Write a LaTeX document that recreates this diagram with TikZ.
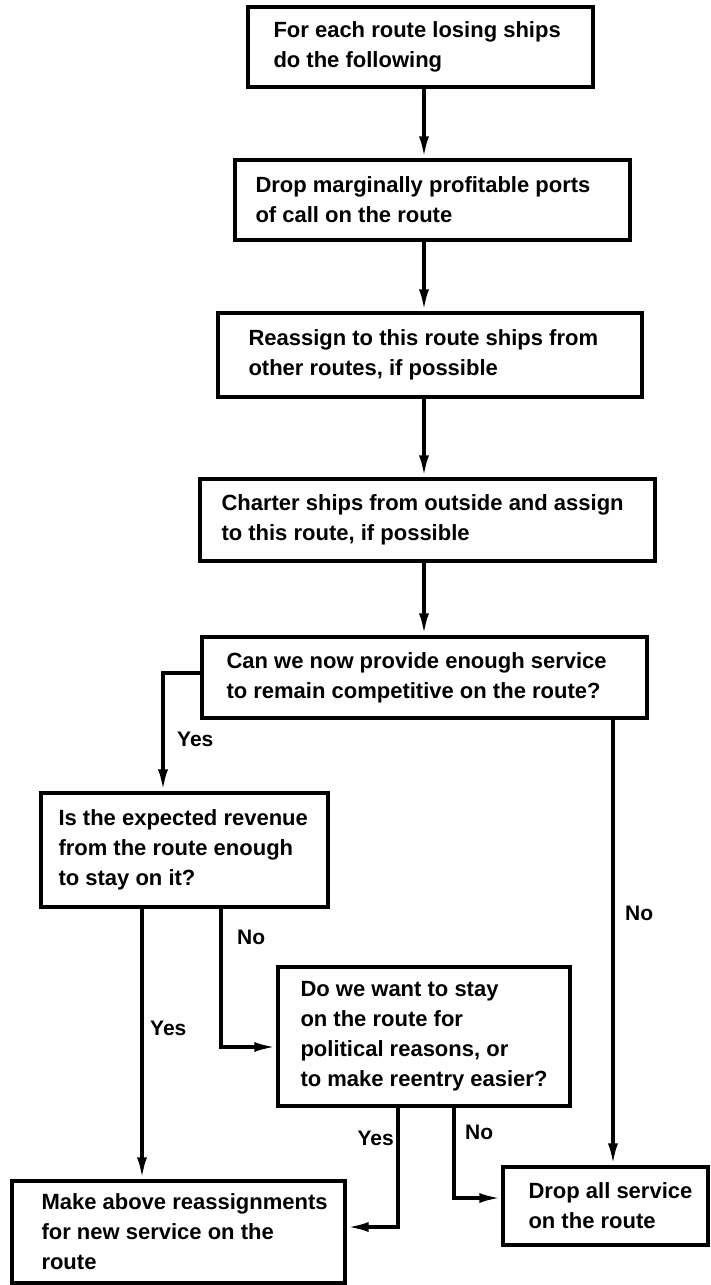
\documentclass[tikz,border=0pt]{standalone}
\usepackage{fontspec}
\setmainfont{Liberation Sans}
\usetikzlibrary{arrows.meta,positioning}
\begin{document}
\begin{tikzpicture}[x=1pt,y=-1pt,
  box/.style={draw, line width=3.4pt, inner sep=0pt},
  txt/.style={font=\bfseries\fontsize{22}{30}\selectfont, align=left, inner sep=0pt, anchor=west},
  lbl/.style={font=\bfseries\fontsize{21}{24}\selectfont, inner sep=0pt},
  conn/.style={line width=3.6pt},
  arr/.style={conn, -{Latex[length=22pt,width=10pt]}}]
\useasboundingbox (0,0) rectangle (710,1285);

% boxes
\node[box, minimum width=345pt, minimum height=80pt]  (b1) at (420.5,47) {};
\node[box, minimum width=395pt, minimum height=80pt]  (b2) at (432.5,200) {};
\node[box, minimum width=424pt, minimum height=84pt]  (b3) at (430,355) {};
\node[box, minimum width=455pt, minimum height=82pt]  (b4) at (427.5,520) {};
\node[box, minimum width=445pt, minimum height=81pt]  (b5) at (424.5,677.5) {};
\node[box, minimum width=287pt, minimum height=114pt] (b6) at (184.5,850) {};
\node[box, minimum width=333pt, minimum height=102pt] (b7) at (178.5,1232) {};
\node[box, minimum width=292pt, minimum height=139pt] (b8) at (424,1036.5) {};
\node[box, minimum width=205pt, minimum height=78pt]  (b9) at (605.5,1206) {};

% texts
\node[txt] (t1) at ([xshift=27pt]b1.west) {For each route losing ships\\do the following};
\node[txt] (t2) at ([xshift=22pt]b2.west) {Drop marginally profitable ports\\of call on the route};
\node[txt] (t3) at ([xshift=32pt]b3.west) {Reassign to this route ships from\\other routes, if possible};
\node[txt] (t4) at ([xshift=23pt]b4.west) {Charter ships from outside and assign\\to this route, if possible};
\node[txt] (t5) at ([xshift=26pt]b5.west) {Can we now provide enough service\\to remain competitive on the route?};
\node[txt] (t6) at ([xshift=19pt]b6.west) {Is the expected revenue\\from the route enough\\to stay on it?};
\node[txt] (t7) at ([xshift=31pt]b7.west) {Make above reassignments\\for new service on the\\route};
\node[txt] (t8) at ([xshift=24pt]b8.west) {Do we want to stay\\on the route for\\political reasons, or\\to make reentry easier?};
\node[txt] (t9) at ([xshift=27pt]b9.west) {Drop all service\\on the route};

% main spine
\coordinate (sp) at (424,0);
\draw[arr] (b1.south -| sp) -- (b2.north -| sp);
\draw[arr] (b2.south -| sp) -- (b3.north -| sp);
\draw[arr] (b3.south -| sp) -- (b4.north -| sp);
\draw[arr] (b4.south -| sp) -- (b5.north -| sp);

% b5 -> b6 (Yes)
\coordinate (y1) at (163,673);
\draw[arr] (b5.west |- y1) -- (y1) -- (b6.north -| y1);
\node[lbl, anchor=west] (l1) at (177,739) {Yes};

% b5 -> b9 (No)
\coordinate (n1) at (613,0);
\draw[arr] (b5.south -| n1) -- (b9.north -| n1);
\node[lbl, anchor=west] (l2) at (625,913) {No};

% b6 -> b7 (Yes)
\coordinate (y2) at (142,0);
\draw[arr] (b6.south -| y2) -- (b7.north -| y2);
\node[lbl, anchor=west] (l3) at (150,1028) {Yes};

% b6 -> b8 (No)
\coordinate (n2) at (221,1047);
\draw[arr] (b6.south -| n2) -- (n2) -- (b8.west |- n2);
\node[lbl, anchor=west] (l4) at (237,937) {No};

% b8 -> b7 (Yes)
\coordinate (y3) at (398,1227);
\draw[arr] (b8.south -| y3) -- (y3) -- (b7.east |- y3);
\node[lbl, anchor=east] (l5) at (394,1138) {Yes};

% b8 -> b9 (No)
\coordinate (n3) at (454,1198);
\draw[arr] (b8.south -| n3) -- (n3) -- (b9.west |- n3);
\node[lbl, anchor=west] (l6) at (465,1132) {No};
\end{tikzpicture}
\end{document}
